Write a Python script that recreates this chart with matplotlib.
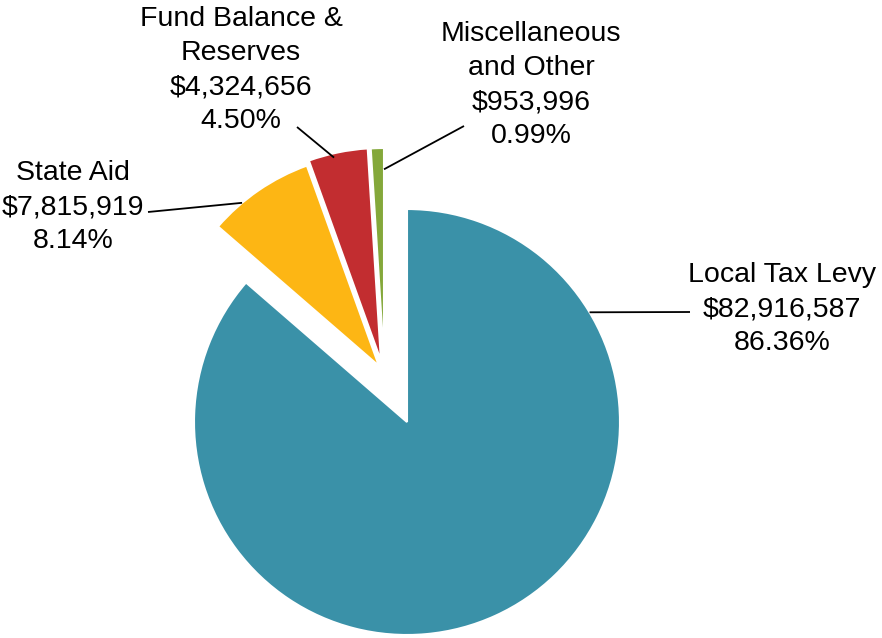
import numpy as np
import matplotlib
matplotlib.use("Agg")
from matplotlib import pyplot as plt

# chart data
categories = ["Local Tax Levy", "State Aid", "Fund Balance &\nReserves", "Miscellaneous\nand Other"]
amounts = [82916587, 7815919, 4324656, 953996]
percents = ["86.36%", "8.14%", "4.50%", "0.99%"]
colors = ["#3A91A8", "#FDB614", "#C22D30", "#84A83A"]

W, H = 882, 638
R = 213.0            # pie radius in pixels
CX, CY = 407, 422    # pie centre in pixels (from top)

def px(x, y):
    # pixel position -> data coordinates
    return (x - CX) / R, (CY - y) / R

# slice shift (pixels) for the pulled-out slices
shifts = [(0, 0), (-28, -56), (-26, -61), (-23, -61)]
# label centre (pixels), leader end at label (pixels), leader angle on the slice (deg), leader radius
label_pos = [(782, 309), (73, 207), (241, 70), (531, 85)]
leader_txt = [(690, 312), (148, 212), (297, 127), (464, 126)]
leader_ang = [31.0, 130, 103, 90]
leader_rad = [1.0, 1.0, 0.98, 0.9]

fig = plt.figure(figsize=(W / 100, H / 100), dpi=100)
ax = fig.add_axes([0, 0, 1, 1])

wedges, _ = ax.pie(amounts, colors=colors, startangle=90, counterclock=False,
                   radius=1.0, wedgeprops=dict(edgecolor="white", linewidth=1.5))

for i, w in enumerate(wedges):
    dx, dy = shifts[i]
    cx, cy = dx / R, -dy / R
    w.set_center((cx, cy))
    a = np.deg2rad(leader_ang[i])
    x0, y0 = cx + leader_rad[i] * np.cos(a), cy + leader_rad[i] * np.sin(a)
    x1, y1 = px(*leader_txt[i])
    ax.plot([x0, x1], [y0, y1], color="black", lw=1.3, solid_capstyle="butt")
    lx, ly = px(*label_pos[i])
    txt = "%s\n${:,}\n%s".format(amounts[i]) % (categories[i], percents[i])
    ax.text(lx, ly, txt, ha="center", va="center", fontsize=20.5,
            family="Liberation Sans", linespacing=1.4, color="black")

ax.set_aspect("auto")
ax.set_xlim(-CX / R, (W - CX) / R)
ax.set_ylim(-(H - CY) / R, CY / R)
ax.axis("off")

fig.savefig("out.png", dpi=100)
